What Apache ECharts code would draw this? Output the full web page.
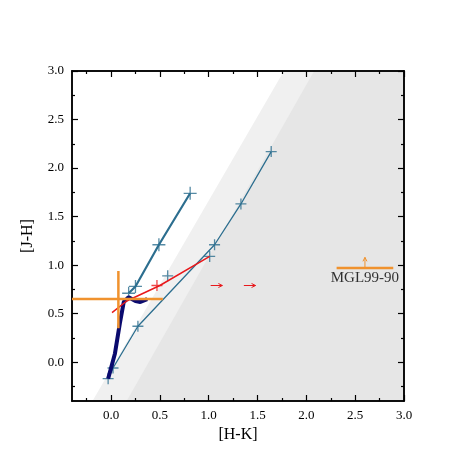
<!DOCTYPE html>
<html><head><meta charset="utf-8">
<script src="https://cdn.jsdelivr.net/npm/echarts@6/dist/echarts.min.js"></script>
<style>html,body{margin:0;background:#fff}#main{width:475px;height:475px}</style>
</head><body><div id="main"></div>
<script>
// shaded regions (boundaries parallel to reddening vector)
var band_light = [[-0.19, -0.4], [1.77, 3.0], [3.0, 3.0], [3.0, -0.4]];
var band_dark = [[0.16, -0.4], [2.08, 3.0], [3.0, 3.0], [3.0, -0.4]];
// teal tracks
var track_thick = [[0.18, 0.71], [0.25, 0.78], [0.49, 1.21], [0.81, 1.74]];
var track_thin = [[-0.03, -0.17], [0.02, -0.06], [0.275, 0.37], [1.06, 1.21], [1.33, 1.63], [1.64, 2.17]];
var track_extra = [[0.58, 0.89], [1.01, 1.09]];
// red line
var red_line = [[0.01, 0.51], [0.16, 0.63], [0.5, 0.79], [1.01, 1.09]];
var red_arrows = [[1.02, 0.79, 1.14, 0.79], [1.36, 0.79, 1.48, 0.79]];
// navy curve
var navy_curve = [[-0.03, -0.17], [0.04, 0.09], [0.09, 0.40], [0.13, 0.62], [0.18, 0.67], [0.25, 0.63], [0.3, 0.62], [0.37, 0.65]];
// orange error bars
var err_h = [[-0.4, 0.65], [0.53, 0.65]];
var err_v = [[0.075, 0.35], [0.075, 0.94]];
var mgl_h = [[2.31, 0.97], [2.89, 0.97]];
var mgl_arrow = [[2.6, 0.97, 2.6, 1.08]];
var major = [0, 0.5, 1.0, 1.5, 2.0, 2.5, 3.0];
var minor = [-0.25, 0.25, 0.75, 1.25, 1.75, 2.25, 2.75];

var teal = "#2c6e8f", orange = "#f0922e";
var plus = "path://M0,-10L0,10M-10,0L10,0";
var font = "Liberation Serif";

function poly(data, color){
	return {
		type : "custom", silent : true, z : 0,
		data : [0],
		renderItem : function(params, api){
			return {
				type : "polygon",
				shape : { points : data.map(p => api.coord(p)) },
				style : { fill : color }
			};
		}
	};
}
function arrows(data, color){
	return {
		type : "custom", silent : true, z : 6,
		data : data,
		renderItem : function(params, api){
			var a = api.coord([api.value(0), api.value(1)]);
			var b = api.coord([api.value(2), api.value(3)]);
			var dx = b[0] - a[0], dy = b[1] - a[1];
			var l = Math.sqrt(dx * dx + dy * dy), ux = dx / l, uy = dy / l;
			var h = 4, w = 2;
			return { type : "group", children : [
				{ type : "line", shape : { x1 : a[0], y1 : a[1], x2 : b[0], y2 : b[1] }, style : { stroke : color, lineWidth : 1 } },
				{ type : "polyline", shape : { points : [[b[0] - ux * h - uy * w, b[1] - uy * h + ux * w], b, [b[0] - ux * h + uy * w, b[1] - uy * h - ux * w]] },
					style : { stroke : color, lineWidth : 1, fill : null } }
			] };
		}
	};
}
function axis(pos, show, len, vals){
	var isX = pos == "bottom" || pos == "top";
	return {
		type : "value", position : pos, min : -0.4, max : 3.0,
		axisLine : { show : true, onZero : false, lineStyle : { color : "#000", width : 1.5 } },
		axisTick : { show : true, inside : true, length : len, customValues : vals, lineStyle : { color : "#000", width : 1.2 } },
		axisLabel : { show : show, customValues : major, color : "#000", fontFamily : font, fontSize : 13,
			formatter : v => v.toFixed(1), margin : 8 },
		splitLine : { show : false },
		name : show ? (isX ? "[H-K]" : "[J-H]") : "",
		nameLocation : "middle", nameGap : isX ? 24 : 36,
		nameTextStyle : { color : "#000", fontFamily : font, fontSize : 16 },
		gridIndex : 0
	};
}
function line(data, color, width, z){
	return {
		type : "line", data : data, z : z || 3, silent : true,
		lineStyle : { color : color, width : width },
		symbol : "none", animation : false
	};
}
function marks(data, color, size, z){
	return { type : "scatter", data : data, symbol : plus, symbolSize : size, z : z || 3, silent : true,
		itemStyle : { color : "none", borderColor : color, borderWidth : 1.3 } };
}

var echart = echarts.init(document.getElementById("main"));
var series = [
	poly(band_light, "#f0f0f0"),
	poly(band_dark, "#e6e6e6"),
	line(track_thin, teal, 1.3),
	marks(track_thin, teal, 11),
	line(track_thick, teal, 2.2),
	marks(track_thick, teal, 13),
	marks(track_extra, teal, 11),
	line(navy_curve, "#0a0a6e", 4, 4),
	line(red_line, "#e8191c", 1.5, 5),
	marks([[0.47, 0.79]], "#e8191c", 11, 5),
	line(err_h, orange, 2.5, 6),
	line(err_v, orange, 2.5, 6),
	line(mgl_h, orange, 2.5, 6),
	arrows(mgl_arrow, orange),
	arrows(red_arrows, "#e8191c"),
	{ type : "scatter", data : [[2.6, 0.87]], symbolSize : 0, z : 7,
		label : { show : true, formatter : "MGL99-90", color : "#000", fontFamily : font, fontSize : 15, position : "inside" } }
];

var option = {
	animation : false,
	grid : { left : 72, right : 71, top : 71, bottom : 74 },
	xAxis : [axis("bottom", true, 6, major), axis("top", false, 6, major), axis("bottom", false, 3, minor), axis("top", false, 3, minor)],
	yAxis : [axis("left", true, 6, major), axis("right", false, 6, major), axis("left", false, 3, minor), axis("right", false, 3, minor)],
	series : series
};
echart.setOption(option);
</script></body></html>
